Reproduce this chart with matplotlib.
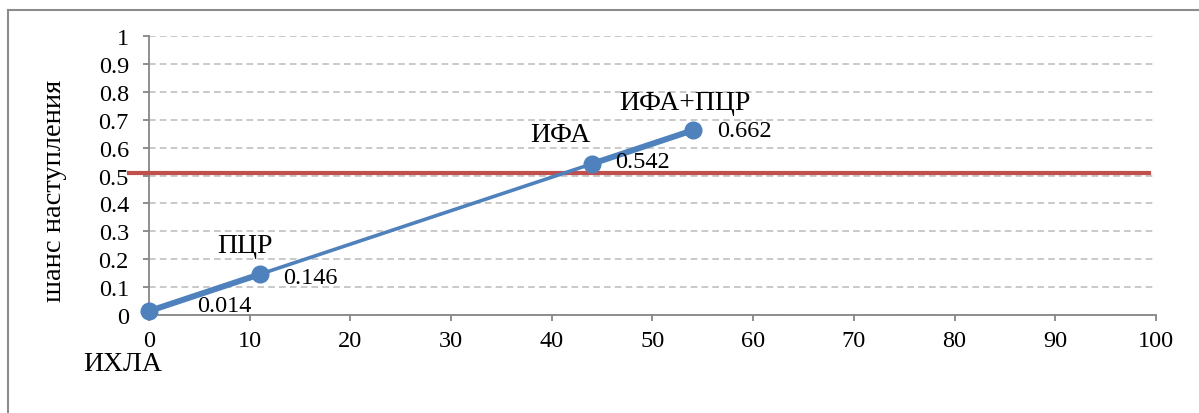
import matplotlib
matplotlib.use('Agg')
from matplotlib import pyplot as plt
from matplotlib.lines import Line2D

plt.rcParams['font.family'] = ['Liberation Serif', 'DejaVu Serif']

# methods and their chance values
methods = ['ИХЛА', 'ПЦР', 'ИФА', 'ИФА+ПЦР']
x_vals = [0, 11, 44, 54]
chance = [0.014, 0.146, 0.542, 0.662]
threshold = 0.51
value_labels = ['0.014', '0.146', '0.542', '0.662']

blue = '#4f81bd'
red = '#c0504d'
gray = '#868686'

fig = plt.figure(figsize=(11.99, 4.14), dpi=100)
ax = fig.add_axes([0.1243, 0.2367, 0.8398, 0.6739])

# outer frame (top and left edges)
fig.add_artist(Line2D([8/1199, 8/1199], [0, 1 - 11/414], transform=fig.transFigure, color='#8c8c8c', lw=1.5))
fig.add_artist(Line2D([8/1199, 1], [1 - 11/414, 1 - 11/414], transform=fig.transFigure, color='#8c8c8c', lw=1.5))

ax.set_xlim(0, 100)
ax.set_ylim(0, 1)
ax.set_xticks(range(0, 101, 10))
ax.set_yticks([i / 10 for i in range(11)])
ax.set_yticklabels(['0', '0.1', '0.2', '0.3', '0.4', '0.5', '0.6', '0.7', '0.8', '0.9', '1'])
ax.yaxis.grid(True, color='#c0c0c0', linestyle=(0, (4, 2.5)), linewidth=1.2)
ax.set_axisbelow(True)
for s in ['top', 'right']:
    ax.spines[s].set_visible(False)
for s in ['left', 'bottom']:
    ax.spines[s].set_color(gray)
    ax.spines[s].set_linewidth(1.3)
ax.tick_params(colors=gray, labelcolor='black', labelsize=17.5, length=4.5, width=1.3)
ax.tick_params(axis='x', pad=6)
ax.tick_params(axis='y', pad=10)
ax.set_ylabel('шанс наступления', fontsize=20.5, va='center')
ax.yaxis.set_label_coords(-0.094, 0.45)

# threshold line
ax.plot([-2, 99.3], [threshold, threshold], color=red, lw=3, clip_on=False, zorder=3)

# main line, thicker outer segments
ax.plot(x_vals, chance, color=blue, lw=2.6, zorder=4, solid_capstyle='round')
ax.plot(x_vals[:2], chance[:2], color=blue, lw=4.3, zorder=4, solid_capstyle='round')
ax.plot(x_vals[2:], chance[2:], color=blue, lw=4.3, zorder=4, solid_capstyle='round')
ax.plot(x_vals, chance, 'o', color=blue, ms=12, zorder=5, clip_on=False)

value_off = [(48, 6), (23, -3), (23, 2), (24, 0)]
name_off = [(-26, -52), (-15, 29), (-32, 29), (-8, 28)]
for i in range(len(methods)):
    ax.annotate(value_labels[i], (x_vals[i], chance[i]), xytext=value_off[i],
                textcoords='offset pixels', ha='left', va='center', fontsize=17.5, zorder=6,
                annotation_clip=False)
    ax.annotate(methods[i], (x_vals[i], chance[i]), xytext=name_off[i],
                textcoords='offset pixels', ha='center', va='center', fontsize=20, zorder=6,
                annotation_clip=False)

fig.savefig('out.png', dpi=100)
